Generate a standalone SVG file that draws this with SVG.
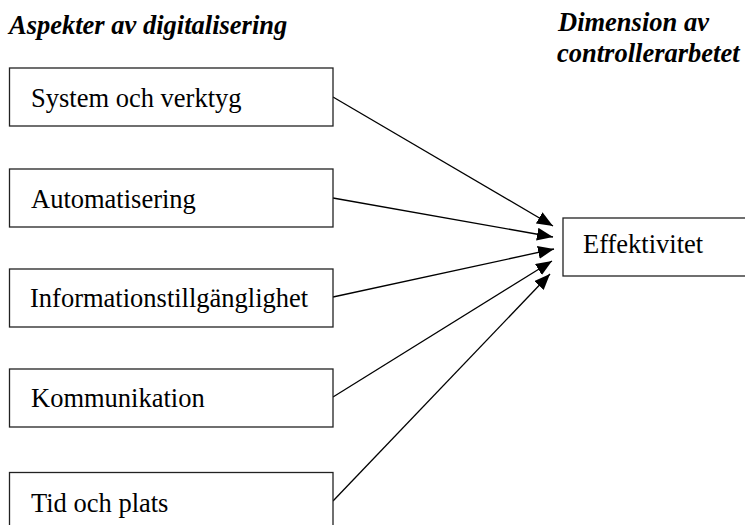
<svg xmlns="http://www.w3.org/2000/svg" width="745" height="525" viewBox="0 0 745 525">
  <defs>
    <style>
      .box { fill: #ffffff; stroke: #222222; stroke-width: 1.3; }
      .lbl { font-family: 'Liberation Serif', 'Times New Roman', serif; font-size: 26.5px; fill: #000000; }
      .hdr { font-family: 'Liberation Serif', 'Times New Roman', serif; font-size: 26.5px; font-weight: bold; font-style: italic; fill: #000000; }
      .conn { stroke: #000000; stroke-width: 1.3; fill: none; marker-end: url(#arrow); }
    </style>
    <marker id="arrow" markerUnits="userSpaceOnUse" markerWidth="17" markerHeight="14" refX="16" refY="6.5" orient="auto">
      <path d="M0,0 L16,6.5 L0,13 z" fill="#000000"/>
    </marker>
  </defs>
  <rect width="745" height="525" fill="#ffffff"/>

  <g id="headers">
    <text class="hdr" x="9" y="34">Aspekter av digitalisering</text>
    <text class="hdr" x="558" y="31">Dimension av</text>
    <text class="hdr" x="557" y="62">controllerarbetet</text>
  </g>

  <g id="connectors">
    <line class="conn" x1="333" y1="97" x2="553" y2="226"/>
    <line class="conn" x1="333" y1="198" x2="553" y2="237"/>
    <line class="conn" x1="333" y1="297" x2="554" y2="249"/>
    <line class="conn" x1="333" y1="397" x2="552" y2="261"/>
    <line class="conn" x1="333" y1="501" x2="550" y2="274"/>
  </g>

  <g id="node-system">
    <rect class="box" x="9.5" y="68" width="323.5" height="58"/>
    <text class="lbl" x="31" y="107">System och verktyg</text>
  </g>
  <g id="node-automatisering">
    <rect class="box" x="9.5" y="169" width="323.5" height="58"/>
    <text class="lbl" x="31" y="208">Automatisering</text>
  </g>
  <g id="node-information">
    <rect class="box" x="9.5" y="269" width="323.5" height="58"/>
    <text class="lbl" x="30" y="307">Informationstillgänglighet</text>
  </g>
  <g id="node-kommunikation">
    <rect class="box" x="9.5" y="369" width="323.5" height="58"/>
    <text class="lbl" x="31" y="407">Kommunikation</text>
  </g>
  <g id="node-tid">
    <rect class="box" x="9.5" y="472.5" width="323.5" height="58"/>
    <text class="lbl" x="31" y="512">Tid och plats</text>
  </g>
  <g id="node-effektivitet">
    <rect class="box" x="563" y="218" width="200" height="58"/>
    <text class="lbl" x="583" y="253">Effektivitet</text>
  </g>
</svg>
